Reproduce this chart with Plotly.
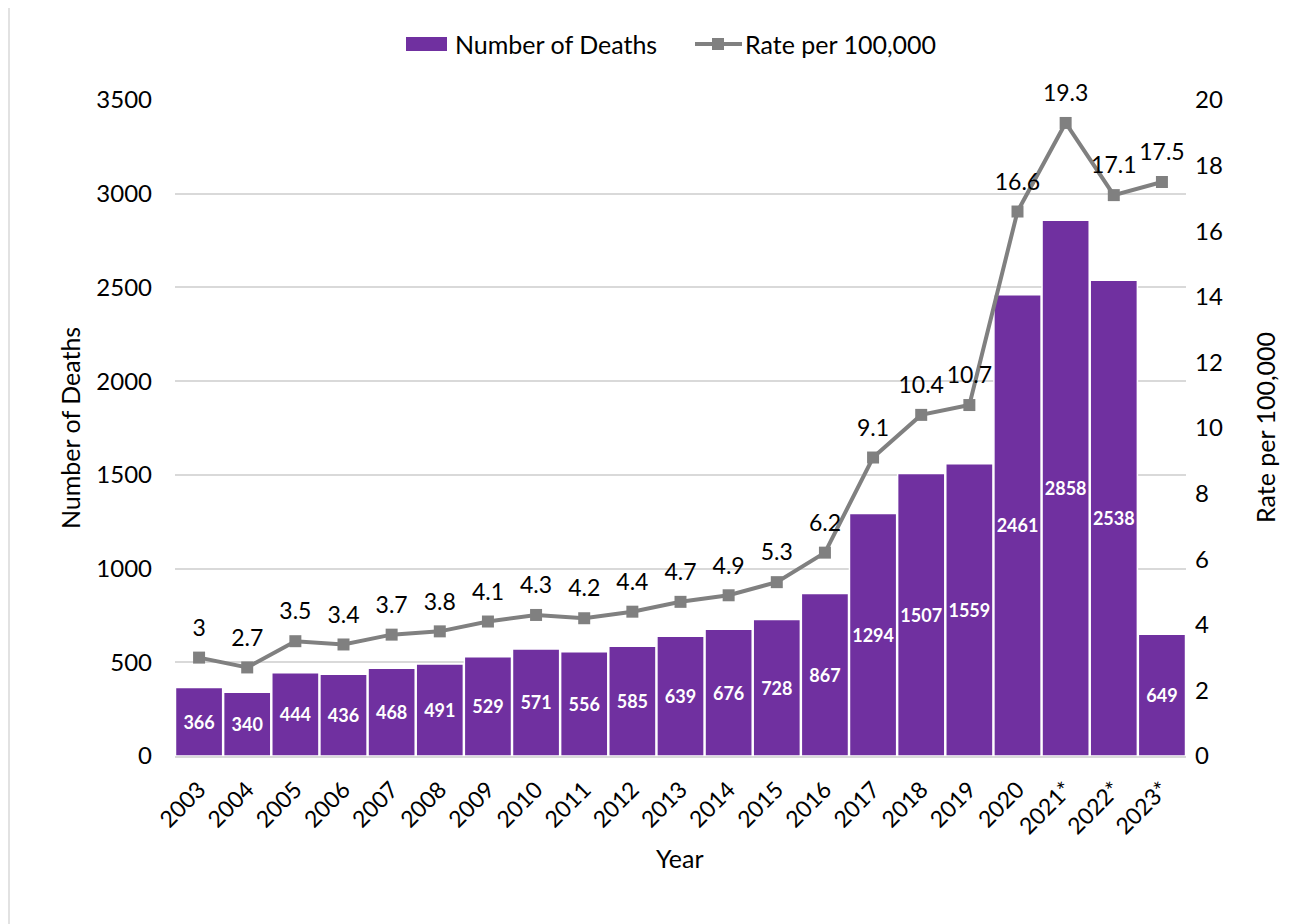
import plotly.graph_objects as go

years = ["2003", "2004", "2005", "2006", "2007", "2008", "2009", "2010", "2011", "2012",
         "2013", "2014", "2015", "2016", "2017", "2018", "2019", "2020", "2021*", "2022*", "2023*"]
deaths = [366, 340, 444, 436, 468, 491, 529, 571, 556, 585, 639, 676, 728, 867, 1294, 1507,
          1559, 2461, 2858, 2538, 649]
rates = [3, 2.7, 3.5, 3.4, 3.7, 3.8, 4.1, 4.3, 4.2, 4.4, 4.7, 4.9, 5.3, 6.2, 9.1, 10.4, 10.7,
         16.6, 19.3, 17.1, 17.5]
rate_labels = [f"{r:g}" for r in rates]

PURPLE = "#7030a0"
GRAY = "#808080"
FONT = "Lato, 'Open Sans', sans-serif"
W, H = 1305, 924
OFF = 8  # page body margin
# desired plot area in screenshot pixels: x 175..1186, y 100..756
ML = 175 - OFF
MT = 100 - OFF
PW = 1186 - 175
PH = 756 - 100
MR = W - ML - PW
MB = H - MT - PH


def px_x(px):
    return (px - 175) / PW


def px_y(py):
    return (756 - py) / PH


fig = go.Figure()
fig.add_trace(go.Bar(
    x=years, y=deaths, name="Number of Deaths",
    marker=dict(color=PURPLE, line=dict(color="white", width=1.5)),
    text=[str(d) for d in deaths], textposition="inside", insidetextanchor="middle",
    textangle=0, textfont=dict(color="white", size=18, family=FONT, weight="bold"),
    yaxis="y", showlegend=False,
))
fig.add_trace(go.Scatter(
    x=years, y=rates, name="Rate per 100,000", mode="lines+markers",
    line=dict(color=GRAY, width=4),
    marker=dict(symbol="square", size=12, color=GRAY),
    yaxis="y2", cliponaxis=False, showlegend=False,
))
# data labels for the rate line (transparent larger markers push labels a bit higher)
fig.add_trace(go.Scatter(
    x=years, y=rates, mode="markers+text",
    marker=dict(size=24, color="rgba(0,0,0,0)"),
    text=rate_labels, textposition="top center",
    textfont=dict(color="black", size=23, family=FONT),
    yaxis="y2", cliponaxis=False, showlegend=False, hoverinfo="skip",
))

# custom legend (drawn to match the reference's wide bar swatch)
LEG_Y = 44
shapes = [
    dict(type="rect", xref="paper", yref="paper", x0=px_x(9), x1=px_x(1320),
         y0=px_y(940), y1=px_y(7), line=dict(color="#d9d9d9", width=1.5), layer="below"),
    dict(type="rect", xref="paper", yref="paper", x0=px_x(406), x1=px_x(447),
         y0=px_y(51), y1=px_y(37), fillcolor=PURPLE, line=dict(width=0)),
    dict(type="line", xref="paper", yref="paper", x0=px_x(695), x1=px_x(742),
         y0=px_y(LEG_Y), y1=px_y(LEG_Y), line=dict(color=GRAY, width=4)),
    dict(type="rect", xref="paper", yref="paper", x0=px_x(712), x1=px_x(724),
         y0=px_y(LEG_Y + 6), y1=px_y(LEG_Y - 6), fillcolor=GRAY, line=dict(width=0)),
]

fig.update_layout(
    width=W, height=H,
    margin=dict(l=ML, r=MR, t=MT, b=MB),
    paper_bgcolor="white", plot_bgcolor="white",
    font=dict(family=FONT, size=24, color="black"),
    bargap=0.02,
    uniformtext=dict(minsize=18, mode="show"),
    showlegend=False,
    xaxis=dict(type="category", tickangle=-45, showgrid=False, showline=True,
               linecolor="#d9d9d9", linewidth=2, ticks="", tickfont=dict(size=23),
               ticklabelstandoff=9, range=[-0.5, len(years) - 0.5]),
    yaxis=dict(range=[0, 3500], dtick=500, showgrid=True, gridcolor="#d9d9d9", gridwidth=1.5,
               zeroline=False, showline=False, ticks="", tickfont=dict(size=24),
               ticklabelstandoff=22),
    yaxis2=dict(range=[0, 20], dtick=2, overlaying="y", side="right", showgrid=False,
                zeroline=False, showline=False, ticks="", tickfont=dict(size=24),
                ticklabelstandoff=8),
    annotations=[
        dict(text="Number of Deaths", x=px_x(453), y=px_y(LEG_Y), xref="paper", yref="paper",
             showarrow=False, font=dict(size=25), xanchor="left", yanchor="middle"),
        dict(text="Rate per 100,000", x=px_x(743), y=px_y(LEG_Y), xref="paper", yref="paper",
             showarrow=False, font=dict(size=25), xanchor="left", yanchor="middle"),
        dict(text="Number of Deaths", x=px_x(70), y=0.5, xref="paper", yref="paper",
             textangle=-90, showarrow=False, font=dict(size=25), xanchor="center", yanchor="middle"),
        dict(text="Rate per 100,000", x=px_x(1265), y=0.5, xref="paper", yref="paper",
             textangle=-90, showarrow=False, font=dict(size=25), xanchor="center", yanchor="middle"),
        dict(text="Year", x=px_x(680), y=px_y(858), xref="paper", yref="paper",
             showarrow=False, font=dict(size=25), xanchor="center", yanchor="middle"),
    ],
    shapes=shapes,
)

fig.write_html("out.html")
